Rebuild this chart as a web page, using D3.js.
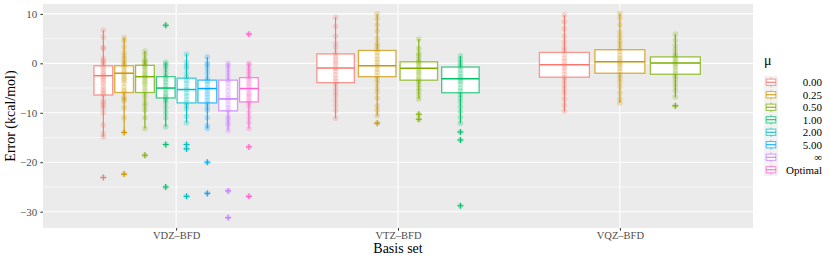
<html>
<head>
<meta charset="utf-8">
<script src="https://d3js.org/d3.v7.min.js"></script>
<style>
  body { margin: 0; background: #fff; }
  text { font-family: "Liberation Serif", "DejaVu Serif", serif; }
  .tick text { fill: #4d4d4d; font-size: 11px; }
  .xaxis .tick text { font-size: 10.5px; }
  .tick line { stroke: #333; }
  .domain { display: none; }
</style>
</head>
<body>
<svg id="chart" width="830" height="260"></svg>
<script>

// categories
var basisSets = ["VDZ–BFD", "VTZ–BFD", "VQZ–BFD"];
var muLabels = ["0.00", "0.25", "0.50", "1.00", "2.00", "5.00", "∞", "Optimal"];
var yTicks = [-30, -20, -10, 0, 10];

// box stats: basis, mu index, lower whisker, q1, median, q3, upper whisker
var boxStats = [
  ["VDZ–BFD", 0, -14.9, -6.4, -2.5, -0.5, 6.7],
  ["VDZ–BFD", 1, -14.0, -5.9, -2.0, -0.5, 5.2],
  ["VDZ–BFD", 2, -13.2, -5.9, -2.7, -0.4, 2.5],
  ["VDZ–BFD", 3, -12.8, -7.0, -5.0, -2.7, 0.2],
  ["VDZ–BFD", 4, -12.0, -8.0, -5.3, -3.0, 1.9],
  ["VDZ–BFD", 5, -13.2, -8.0, -5.1, -3.4, 1.3],
  ["VDZ–BFD", 6, -13.6, -9.6, -7.2, -3.4, 0.0],
  ["VDZ–BFD", 7, -13.2, -7.8, -5.1, -2.9, 0.0],
  ["VTZ–BFD", 0, -11.1, -3.9, -0.95, 1.9, 9.3],
  ["VTZ–BFD", 1, -10.6, -2.7, -0.5, 2.6, 10.0],
  ["VTZ–BFD", 2, -7.2, -3.4, -1.0, 0.3, 4.9],
  ["VTZ–BFD", 3, -12.1, -5.95, -3.1, -0.75, 1.5],
  ["VQZ–BFD", 0, -9.7, -2.8, -0.3, 2.2, 9.8],
  ["VQZ–BFD", 1, -8.0, -2.0, 0.3, 2.75, 10.1],
  ["VQZ–BFD", 2, -6.8, -2.2, 0.06, 1.3, 5.9]
];

// outliers: basis, mu index, value
var outliers = [
  ["VDZ–BFD", 0, -23.1],
  ["VDZ–BFD", 1, -14.0], ["VDZ–BFD", 1, -22.4],
  ["VDZ–BFD", 2, -18.6],
  ["VDZ–BFD", 3, 7.7], ["VDZ–BFD", 3, -16.4], ["VDZ–BFD", 3, -25.0],
  ["VDZ–BFD", 4, -16.4], ["VDZ–BFD", 4, -17.3], ["VDZ–BFD", 4, -26.9],
  ["VDZ–BFD", 5, -20.0], ["VDZ–BFD", 5, -26.3],
  ["VDZ–BFD", 6, -25.8], ["VDZ–BFD", 6, -31.2],
  ["VDZ–BFD", 7, 5.9], ["VDZ–BFD", 7, -16.9], ["VDZ–BFD", 7, -26.9],
  ["VTZ–BFD", 1, -12.1],
  ["VTZ–BFD", 2, -10.3], ["VTZ–BFD", 2, -11.3],
  ["VTZ–BFD", 3, -13.9], ["VTZ–BFD", 3, -15.5], ["VTZ–BFD", 3, -28.8],
  ["VQZ–BFD", 2, -8.6]
];

// the individual errors (inside the whiskers), one list per mu
var pointsVDZ = [
  [6.7, 5.3, 3.2, 3.0, 1.0, 0.5, 0.2, -0.3, -0.8, -1.2, -1.8, -2.2, -2.6, -3.0, -3.5, -4.0, -4.6, -5.2, -5.6, -6.0, -6.4, -7.6, -8.0, -8.5, -9.0, -10.0, -12.5, -14.2, -14.9],
  [5.2, 4.5, 3.3, 2.2, 1.5, 0.9, 0.3, -0.1, -0.5, -0.9, -1.5, -2.0, -2.5, -3.0, -3.4, -4.0, -4.8, -5.5, -5.9, -6.8, -7.2, -7.6, -9.0, -11.0],
  [2.5, 1.8, 0.8, 0.4, 0.1, -0.3, -0.6, -1.0, -1.5, -2.0, -2.4, -2.8, -3.3, -3.8, -4.3, -5.0, -5.6, -6.2, -7.0, -8.0, -8.6, -9.5, -11.0, -13.2],
  [0.2, -0.2, -0.6, -1.2, -2.0, -2.7, -3.2, -3.8, -4.4, -5.0, -5.5, -6.1, -6.6, -7.0, -7.4, -8.0, -9.0, -10.0, -11.0, -12.8],
  [1.9, 0.2, -0.5, -1.0, -2.0, -2.8, -3.5, -4.0, -4.8, -5.3, -6.0, -6.6, -7.3, -8.0, -8.6, -9.2, -10.7, -12.0],
  [1.3, 0.0, -0.3, -1.0, -1.9, -3.0, -3.6, -4.2, -5.0, -5.6, -6.2, -6.8, -7.5, -8.1, -8.9, -9.5, -11.0, -12.6, -13.2],
  [0.0, -0.4, -1.0, -1.8, -2.6, -3.4, -4.0, -4.8, -5.6, -6.4, -7.0, -7.6, -8.4, -9.0, -9.6, -10.8, -11.3, -12.0, -12.5, -13.6],
  [0.0, -0.3, -1.0, -1.6, -2.2, -2.9, -3.5, -4.1, -4.7, -5.3, -6.0, -6.4, -6.9, -7.5, -8.0, -8.8, -10.0, -11.0, -12.0, -13.2]
];
var pointsVTZ = [
  [9.3, 7.5, 5.5, 4.0, 3.2, 2.0, 1.4, 0.8, 0.2, -0.3, -1.0, -1.6, -2.3, -3.0, -3.6, -4.2, -5.0, -5.8, -6.5, -7.5, -8.5, -9.5, -11.1],
  [10.0, 9.0, 7.8, 6.6, 5.0, 4.0, 3.5, 2.8, 2.2, 1.5, 0.8, 0.2, -0.5, -1.2, -1.8, -2.5, -3.2, -4.0, -5.0, -5.8, -7.0, -8.6, -9.5, -10.6],
  [4.9, 3.0, 2.0, 1.5, 0.8, 0.3, 0.0, -0.5, -1.0, -1.6, -2.0, -2.6, -3.2, -3.6, -4.3, -5.0, -5.6, -6.4, -7.2],
  [1.5, 0.8, 0.2, -0.3, -0.8, -1.4, -2.0, -2.6, -3.1, -3.6, -4.2, -5.0, -5.6, -6.3, -7.0, -7.8, -8.8, -9.8, -10.9, -12.1]
];
var pointsVQZ = [
  [9.8, 8.4, 7.0, 5.5, 4.3, 3.3, 2.6, 1.8, 1.0, 0.4, -0.3, -0.9, -1.5, -2.2, -2.8, -3.5, -4.4, -5.2, -6.0, -7.2, -8.5, -9.7],
  [10.1, 9.2, 7.8, 6.3, 5.4, 4.5, 3.8, 3.0, 2.4, 1.7, 1.0, 0.5, 0.0, -0.4, -1.0, -1.6, -2.3, -3.0, -3.8, -4.8, -6.0, -7.2, -8.0],
  [5.9, 4.7, 3.6, 2.8, 2.0, 1.5, 1.0, 0.5, 0.1, -0.3, -0.8, -1.4, -2.0, -2.6, -3.2, -4.0, -4.8, -5.6, -6.8]
];
var pointsByBasis = { "VDZ–BFD": pointsVDZ, "VTZ–BFD": pointsVTZ, "VQZ–BFD": pointsVQZ };

// ggplot default hue palette for 8 levels
var color = d3.scaleOrdinal()
  .domain(d3.range(muLabels.length))
  .range(["#F8766D", "#CD9600", "#7CAE00", "#00BE67", "#00BFC4", "#00A9FF", "#C77CFF", "#FF61CC"]);

var panel = { left: 43, right: 753, top: 4, bottom: 228 };

var svg = d3.select("#chart");

var x = d3.scalePoint().domain(basisSets).range([panel.left, panel.right]).padding(0.6);
var y = d3.scaleLinear().domain([-33.3, 12.0]).range([panel.bottom, panel.top]);

// number of boxes per basis set, for dodging
var nGroups = {};
basisSets.forEach(function(b) { nGroups[b] = pointsByBasis[b].length; });

function slotWidth(b) { return 0.75 * x.step() / nGroups[b]; }
function boxCenter(b, i) {
  var w = slotWidth(b);
  return x(b) - 0.375 * x.step() + w * (i + 0.5);
}

// panel background + grid
svg.append("rect")
  .attr("x", panel.left).attr("y", panel.top)
  .attr("width", panel.right - panel.left).attr("height", panel.bottom - panel.top)
  .attr("fill", "#ebebeb");

var minor = [-25, -15, -5, 5];
svg.selectAll(".minor").data(minor).enter().append("line")
  .attr("x1", panel.left).attr("x2", panel.right)
  .attr("y1", function(d) { return y(d); }).attr("y2", function(d) { return y(d); })
  .attr("stroke", "#fff").attr("stroke-width", 0.55);

svg.selectAll(".major").data(yTicks).enter().append("line")
  .attr("x1", panel.left).attr("x2", panel.right)
  .attr("y1", function(d) { return y(d); }).attr("y2", function(d) { return y(d); })
  .attr("stroke", "#fff").attr("stroke-width", 1.1);

svg.selectAll(".vmajor").data(basisSets).enter().append("line")
  .attr("x1", function(d) { return x(d); }).attr("x2", function(d) { return x(d); })
  .attr("y1", panel.top).attr("y2", panel.bottom)
  .attr("stroke", "#fff").attr("stroke-width", 1.1);

// boxes
var boxes = svg.append("g");
boxStats.forEach(function(s) {
  var b = s[0], i = s[1];
  var cx = boxCenter(b, i);
  var w = slotWidth(b) * 0.9;
  var c = color(i);
  var g = boxes.append("g");
  g.append("line").attr("x1", cx).attr("x2", cx)
    .attr("y1", y(s[2])).attr("y2", y(s[3]))
    .attr("stroke", c).attr("stroke-width", 1.1);
  g.append("line").attr("x1", cx).attr("x2", cx)
    .attr("y1", y(s[5])).attr("y2", y(s[6]))
    .attr("stroke", c).attr("stroke-width", 1.1);
  g.append("rect")
    .attr("x", cx - w / 2).attr("width", w)
    .attr("y", y(s[5])).attr("height", y(s[3]) - y(s[5]))
    .attr("fill", "#fff").attr("stroke", c).attr("stroke-opacity", 0.75).attr("stroke-width", 1.3);
  g.append("line").attr("x1", cx - w / 2).attr("x2", cx + w / 2)
    .attr("y1", y(s[4])).attr("y2", y(s[4]))
    .attr("stroke", c).attr("stroke-width", 1.5);
});

// outlier crosses
var cross = 3;
svg.append("g").selectAll("path").data(outliers).enter().append("path")
  .attr("d", function(d) {
    var cx = boxCenter(d[0], d[1]), cy = y(d[2]);
    return "M" + (cx - cross) + "," + cy + "H" + (cx + cross) + "M" + cx + "," + (cy - cross) + "V" + (cy + cross);
  })
  .attr("stroke", function(d) { return color(d[1]); })
  .attr("stroke-width", 1.1)
  .attr("fill", "none");

// points, all values including outliers
var pts = [];
basisSets.forEach(function(b) {
  pointsByBasis[b].forEach(function(list, i) {
    list.forEach(function(v) { pts.push([b, i, v]); });
  });
});
outliers.forEach(function(o) { pts.push(o); });

svg.append("g").selectAll("circle").data(pts).enter().append("circle")
  .attr("cx", function(d) { return boxCenter(d[0], d[1]); })
  .attr("cy", function(d) { return y(d[2]); })
  .attr("r", 2.8)
  .attr("fill", function(d) { return color(d[1]); })
  .attr("fill-opacity", 0.25);

// axes
svg.append("g")
  .attr("transform", "translate(" + panel.left + ",0)")
  .call(d3.axisLeft(y).tickValues(yTicks).tickSize(2.7).tickPadding(3));

svg.append("g")
  .attr("class", "xaxis")
  .attr("transform", "translate(0," + panel.bottom + ")")
  .call(d3.axisBottom(x).tickSize(2.7).tickPadding(1));

svg.append("text")
  .attr("transform", "translate(15," + ((panel.top + panel.bottom) / 2) + ") rotate(-90)")
  .attr("text-anchor", "middle")
  .attr("font-size", 14)
  .text("Error (kcal/mol)");

svg.append("text")
  .attr("x", (panel.left + panel.right) / 2).attr("y", 252.5)
  .attr("text-anchor", "middle")
  .attr("font-size", 14)
  .text("Basis set");

// legend
var legend = svg.append("g");
legend.append("text").attr("x", 764).attr("y", 65).attr("font-size", 14).text("μ");

var keyH = 12.5, keyTop = 76;
muLabels.forEach(function(lab, i) {
  var ky = keyTop + i * keyH;
  var c = color(i);
  legend.append("rect").attr("x", 764).attr("y", ky).attr("width", 14).attr("height", keyH).attr("fill", "#f2f2f2");
  legend.append("line").attr("x1", 771).attr("x2", 771).attr("y1", ky + 1.3).attr("y2", ky + keyH - 1.3)
    .attr("stroke", c).attr("stroke-opacity", 0.6);
  legend.append("rect").attr("x", 766.2).attr("y", ky + keyH * 0.25).attr("width", 9.6).attr("height", keyH * 0.5)
    .attr("fill", "#fff").attr("stroke", c).attr("stroke-opacity", 0.7).attr("stroke-width", 1.1);
  legend.append("line").attr("x1", 766.2).attr("x2", 775.8).attr("y1", ky + keyH / 2).attr("y2", ky + keyH / 2)
    .attr("stroke", c).attr("stroke-width", 1.1);
  legend.append("text").attr("x", 822).attr("y", ky + keyH / 2 + 4)
    .attr("text-anchor", "end").attr("font-size", 11)
    .text(lab);
});

</script>
</body>
</html>
